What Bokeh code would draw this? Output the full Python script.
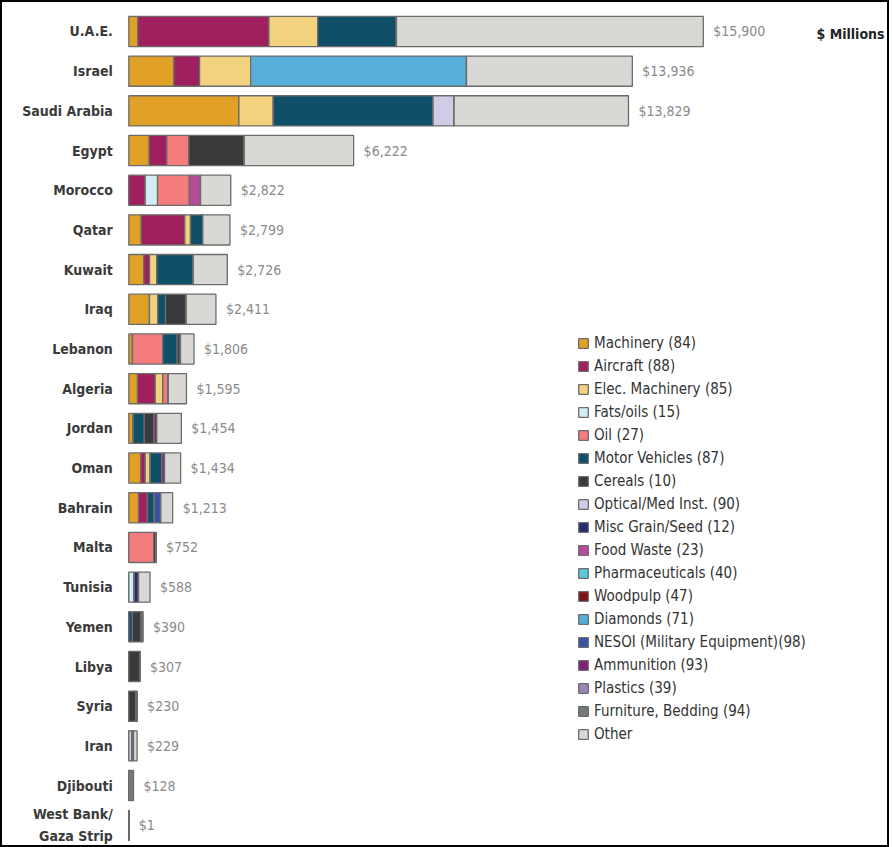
from bokeh.plotting import figure
from bokeh.models import ColumnDataSource, Range1d, Label
from bokeh.core.properties import value
from bokeh.embed import file_html
from bokeh.resources import INLINE

countries = ["U.A.E.", "Israel", "Saudi Arabia", "Egypt", "Morocco", "Qatar", "Kuwait", "Iraq",
             "Lebanon", "Algeria", "Jordan", "Oman", "Bahrain", "Malta", "Tunisia", "Yemen",
             "Libya", "Syria", "Iran", "Djibouti", "West Bank/\nGaza Strip"]
totals = [15900, 13936, 13829, 6222, 2822, 2799, 2726, 2411, 1806, 1595, 1454, 1434, 1213,
          752, 588, 390, 307, 230, 229, 128, 1]

#                U.A.E Isr  Saudi Egy  Mor  Qat  Kuw  Irq  Leb  Alg  Jor  Omn  Bah  Mlt Tun Yem Lib Syr Irn Dji WB
machinery     = [250, 1247, 3047, 565,   0, 343, 416, 573, 102, 241, 122, 332, 269,   0,  0,  0,  0,  0,  0,  0, 0]
aircraft      = [3629, 712,    0, 488, 454, 1208, 158,  0,   0, 490,   0, 122, 249,   0,  0,  0,  0,  0,  0,  0, 0]
elec_mach     = [1349, 1413, 953,   0,   0, 158, 202, 230,   0, 211,   0, 139,   0,   0,  0,  0,  0,  0,  0,  0, 0]
fats_oils     = [0,      0,    0,   0, 341,   0,   0,   0,   0,   0,   0,   0,   0,   0, 150, 0,  0,  0,  0,  0, 0]
oil           = [0,      0,    0, 609, 886,   0,   0,   0, 839, 150,   0,   0,   0, 690,  0,  0,  0,  0,  0,  0, 0]
motor_veh     = [2180,   0, 4421,   0,   0, 341, 1008, 213, 399,   0, 305, 321, 186,  0,  0, 100, 0,  0,  0,  0, 0]
cereals       = [0,      0,    0, 1535,  0,   0,   0, 573,  91,   0, 277,   0,   0,  62,  0, 250, 307, 190, 0, 0, 0]
optical       = [0,      0,  582,   0,   0,   0,   0,   0,   0,   0,   0,   0,   0,   0,  0,  0,  0,  0, 90,  0, 0]
misc_grain    = [0,      0,    0,   0,   0,   0,   0,   0,   0,   0,   0,   0,   0,   0, 120, 0,  0, 40,  0,  0, 0]
food_waste    = [0,      0,    0,   0, 305,   0,   0,   0,   0,   0,   0,   0,   0,   0,  0,  0,  0,  0,  0,  0, 0]
pharma        = [0] * 21
woodpulp      = [0,      0,    0,   0,   0,   0,   0,   0,   0,   0,   0,   0,   0,   0,  0,  0,  0,  0, 40,  0, 0]
diamonds      = [0,   5975,    0,   0,   0,   0,   0,   0,   0,   0,   0,   0,   0,   0,  0,  0,  0,  0,  0,  0, 0]
nesoi         = [0,      0,    0,   0,   0,   0,   0,   0,   0,   0,   0,   0, 183,   0,  0,  0,  0,  0,  0,  0, 0]
ammunition    = [0,      0,    0,   0,   0,   0,   0,   0,   0,   0,  72,  75,   0,   0,  0,  0,  0,  0,  0,  0, 0]
plastics      = [0] * 21
furniture     = [0,      0,    0,   0,   0,   0,   0,   0,   0,   0,   0,   0,   0,   0,  0, 40,  0,  0,  0, 128, 1]
other         = [8492, 4589, 4826, 3025, 836, 749, 942, 822, 375, 503, 678, 445, 326,  0, 318, 0,  0,  0, 99,  0, 0]

category_labels = ["Machinery (84)", "Aircraft (88)", "Elec. Machinery (85)", "Fats/oils (15)", "Oil (27)",
                   "Motor Vehicles (87)", "Cereals (10)", "Optical/Med Inst. (90)", "Misc Grain/Seed (12)",
                   "Food Waste (23)", "Pharmaceuticals (40)", "Woodpulp (47)", "Diamonds (71)",
                   "NESOI (Military Equipment)(98)", "Ammunition (93)", "Plastics (39)",
                   "Furniture, Bedding (94)", "Other"]
series = [machinery, aircraft, elec_mach, fats_oils, oil, motor_veh, cereals, optical, misc_grain,
          food_waste, pharma, woodpulp, diamonds, nesoi, ammunition, plastics, furniture, other]
colors = ["#E0A126", "#A01F5E", "#F3D27F", "#D4EDF5", "#F47C7C", "#0F5068", "#3A3A3C", "#D0CCE6",
          "#262A6E", "#B84A9B", "#5CC9D6", "#7C1416", "#57B0DA", "#3A52A6", "#7E2179", "#9A86B6",
          "#737B7C", "#D9D8D4"]

keys = ["s%d" % i for i in range(len(series))]
data = {"y": list(range(len(countries))), "country": countries, "total": totals,
        "total_label": ["${:,}".format(t) for t in totals]}
for k, s in zip(keys, series):
    data[k] = s
source = ColumnDataSource(data)

FONT = "DejaVu Sans Condensed"
W, H = 889, 847
p = figure(width=W, height=H, output_backend="svg", toolbar_location=None,
           x_range=Range1d(-3551, 21053), y_range=Range1d(20.56, -0.78),
           min_border=0, min_border_left=0, min_border_right=0, min_border_top=0, min_border_bottom=0)
p.axis.visible = False
p.grid.visible = False
p.outline_line_color = "black"
p.outline_line_width = 3
p.background_fill_color = "white"
p.border_fill_color = "white"

p.hbar_stack(keys, y="y", height=0.76, color=colors, source=source,
             line_color="#6c6c6c", line_width=1.3, legend_label=category_labels)

p.text(x=0, y="y", text="country", source=source, x_offset=-16,
       text_align="right", text_baseline="middle", text_font=value(FONT),
       text_font_size="14px", text_font_style="bold", text_color="#3a3a3a", text_line_height=1.4)
p.text(x="total", y="y", text="total_label", source=source, x_offset=10,
       text_align="left", text_baseline="middle", text_font=value(FONT),
       text_font_size="14px", text_color="#8a8a8a")

p.add_layout(Label(x=816, y=H - 33, x_units="screen", y_units="screen", text="$ Millions",
                   text_font=FONT, text_font_size="14px", text_font_style="bold",
                   text_color="#222222", text_baseline="middle"))

lg = p.legend[0]
lg.location = (577, 103)
lg.border_line_color = None
lg.background_fill_alpha = 0
lg.padding = 0
lg.margin = 0
lg.spacing = 3
lg.glyph_width = 12
lg.glyph_height = 12
lg.label_height = 20
lg.label_standoff = 5
lg.label_text_font = FONT
lg.label_text_font_size = "15px"
lg.label_text_color = "#333333"

open("out.html", "w").write(file_html(p, INLINE))
